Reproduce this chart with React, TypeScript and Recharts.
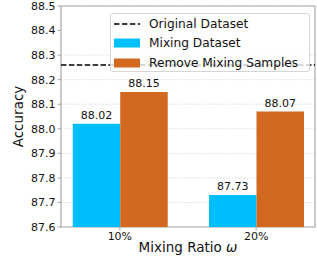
import {
  BarChart,
  Bar,
  XAxis,
  YAxis,
  CartesianGrid,
  ReferenceLine,
  ReferenceArea,
  Legend,
  LabelList,
} from "recharts";

const ratios = ["10%", "20%"];
const mixingDataset = [88.02, 87.73];
const removeMixing = [88.15, 88.07];
const originalDataset = 88.26;
const yTicks = [87.6, 87.7, 87.8, 87.9, 88.0, 88.1, 88.2, 88.3, 88.4, 88.5];

const data = ratios.map((r, i) => ({
  x: i,
  name: r,
  mixing: mixingDataset[i],
  remove: removeMixing[i],
}));

const FONT = "DejaVu Sans, sans-serif";
const X_DOMAIN: [number, number] = [-0.432, 1.432];
const SPINE = "#a8a8a8";

const legendItems = [
  { label: "Original Dataset", kind: "line", color: "#000" },
  { label: "Mixing Dataset", kind: "rect", color: "#00BFFF" },
  { label: "Remove Mixing Samples", kind: "rect", color: "#D2691E" },
];

function LegendBox() {
  return (
    <div
      style={{
        width: 200,
        height: 59,
        boxSizing: "border-box",
        border: "1px solid #d6d6d6",
        borderRadius: 3,
        background: "rgba(255,255,255,0.8)",
        fontFamily: FONT,
        fontSize: 12.2,
        color: "#111",
        position: "relative",
      }}
    >
      {legendItems.map((it, i) => (
        <div
          key={it.label}
          style={{
            position: "absolute",
            left: 3,
            top: 1 + i * 19.5,
            height: 17,
            display: "flex",
            alignItems: "center",
            whiteSpace: "nowrap",
          }}
        >
          <svg width={26} height={12} style={{ marginRight: 9 }}>
            {it.kind === "line" ? (
              <line
                x1={0}
                y1={6}
                x2={26}
                y2={6}
                stroke={it.color}
                strokeWidth={1.5}
                strokeDasharray="5.5 2.4"
              />
            ) : (
              <rect x={0} y={1.5} width={26} height={9} fill={it.color} />
            )}
          </svg>
          <span>{it.label}</span>
        </div>
      ))}
    </div>
  );
}

function XLabel(props: any) {
  const vb = props.viewBox || {};
  const cx = vb.x + vb.width / 2;
  return (
    <text
      x={cx}
      y={252}
      textAnchor="middle"
      fontSize={13.5}
      fill="#111"
      fontFamily={FONT}
    >
      Mixing Ratio <tspan fontStyle="italic">ω</tspan>
    </text>
  );
}

export default function App() {
  return (
    <div style={{ position: "absolute", left: 0, top: 0 }}>
      <BarChart
        width={317}
        height={257}
        data={data}
        barGap={0}
        margin={{ top: 6, right: 2, left: 0, bottom: 0 }}
      >
        <CartesianGrid
          vertical={false}
          stroke="#d4d4d4"
          strokeDasharray="1.5 1.5"
          strokeWidth={0.8}
        />
        <XAxis
          dataKey="x"
          type="number"
          domain={X_DOMAIN}
          ticks={[0, 1]}
          tickFormatter={(v: number) => ratios[v]}
          height={30}
          axisLine={false}
          tickLine={{ stroke: SPINE }}
          tickSize={3.5}
          tick={{ fontSize: 11, fill: "#111", fontFamily: FONT }}
          label={<XLabel />}
        />
        <YAxis
          type="number"
          domain={[87.6, 88.5]}
          ticks={yTicks}
          width={61}
          axisLine={false}
          tickLine={{ stroke: SPINE }}
          tickSize={3.5}
          tickFormatter={(v: number) => v.toFixed(1)}
          tick={{ fontSize: 11, fill: "#111", fontFamily: FONT }}
          label={{
            value: "Accuracy",
            angle: -90,
            position: "insideLeft",
            offset: 18,
            fontSize: 13.5,
            fill: "#111",
            fontFamily: FONT,
            style: { textAnchor: "middle" },
          }}
        />
        <Legend
          layout="horizontal"
          verticalAlign="middle"
          align="center"
          wrapperStyle={{ left: 110, top: 13, width: 200, zIndex: 5 }}
          content={() => <LegendBox />}
        />
        <Bar
          dataKey="mixing"
          fill="#00BFFF"
          barSize={47.5}
          isAnimationActive={false}
        >
          <LabelList
            dataKey="mixing"
            position="top"
            offset={5}
            formatter={(v: number) => v.toFixed(2)}
            style={{ fontSize: 11, fill: "#111", fontFamily: FONT }}
          />
        </Bar>
        <Bar
          dataKey="remove"
          fill="#D2691E"
          barSize={47.5}
          isAnimationActive={false}
        >
          <LabelList
            dataKey="remove"
            position="top"
            offset={5}
            formatter={(v: number) => v.toFixed(2)}
            style={{ fontSize: 11, fill: "#111", fontFamily: FONT }}
          />
        </Bar>
        <ReferenceLine
          y={originalDataset}
          stroke="#000"
          strokeWidth={1.5}
          strokeDasharray="5.5 2.4"
        />
        <ReferenceArea
          x1={X_DOMAIN[0]}
          x2={X_DOMAIN[1]}
          y1={87.6}
          y2={88.5}
          fill="none"
          stroke={SPINE}
          strokeWidth={1.2}
          fillOpacity={0}
        />
      </BarChart>
    </div>
  );
}
